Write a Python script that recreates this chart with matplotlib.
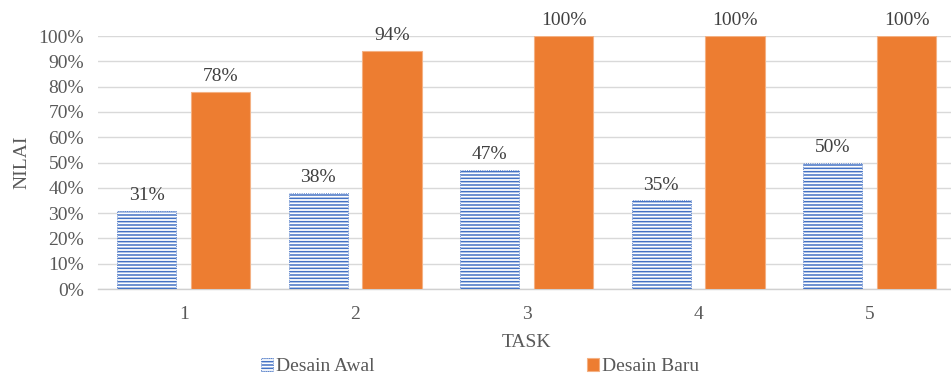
import numpy as np
import matplotlib.pyplot as plt

# nilai tiap task, dalam persen
tasks = ['1', '2', '3', '4', '5']
desain_awal = [31, 38, 47, 35, 50]
desain_baru = [78, 94, 100, 100, 100]

plt.rcParams['font.family'] = 'Liberation Serif'
plt.rcParams['hatch.linewidth'] = 1.1
txt = '#595959'
biru = '#4472C4'
oranye = '#ED7D31'
fs = 14

fig = plt.figure(figsize=(9.51, 3.77), dpi=100)
ax = fig.add_axes([0.103, 0.2334, 0.9016, 0.6711])

x = np.arange(len(tasks))
w = 0.345
off = 0.215

b1 = ax.bar(x - off, desain_awal, w, color='white', edgecolor=biru,
            hatch='-----', linewidth=0.6, linestyle=':', label='Desain Awal', zorder=3)
b2 = ax.bar(x + off, desain_baru, w, color=oranye, edgecolor='#F4B183',
            linewidth=0.8, label='Desain Baru', zorder=3)

for bars, vals in [(b1, desain_awal), (b2, desain_baru)]:
    for r, v in zip(bars, vals):
        ax.annotate(f'{v}%', (r.get_x() + r.get_width() / 2, v),
                    xytext=(0, 5), textcoords='offset points',
                    ha='center', va='bottom', fontsize=fs, color='#404040',
                    annotation_clip=False)

ax.set_xlim(-0.5, 4.5)
ax.set_ylim(0, 100)
ax.set_yticks(np.arange(0, 101, 10))
ax.set_yticklabels([f'{t}%' for t in range(0, 101, 10)])
ax.set_xticks(x)
ax.set_xticklabels(tasks)
ax.tick_params(length=0, labelsize=fs, labelcolor=txt, pad=10)
ax.tick_params(axis='x', pad=12)
ax.grid(axis='y', color='#D9D9D9', linewidth=1, zorder=0)
ax.set_axisbelow(True)
for s in ['top', 'right', 'left']:
    ax.spines[s].set_visible(False)
ax.spines['bottom'].set_color('#D0D0D0')
ax.spines['bottom'].set_linewidth(1)

ax.set_xlabel('TASK', fontsize=fs, color=txt, labelpad=8)
ax.set_ylabel('NILAI', fontsize=fs, color=txt, labelpad=6)

fig.legend(handles=[b1, b2], loc='center', bbox_to_anchor=(0.505, 0.027),
           ncol=2, frameon=False, fontsize=fs, handlelength=0.6, handleheight=0.6,
           handletextpad=0.2, columnspacing=10.9, labelcolor=txt)

fig.savefig('out.png', dpi=100)
